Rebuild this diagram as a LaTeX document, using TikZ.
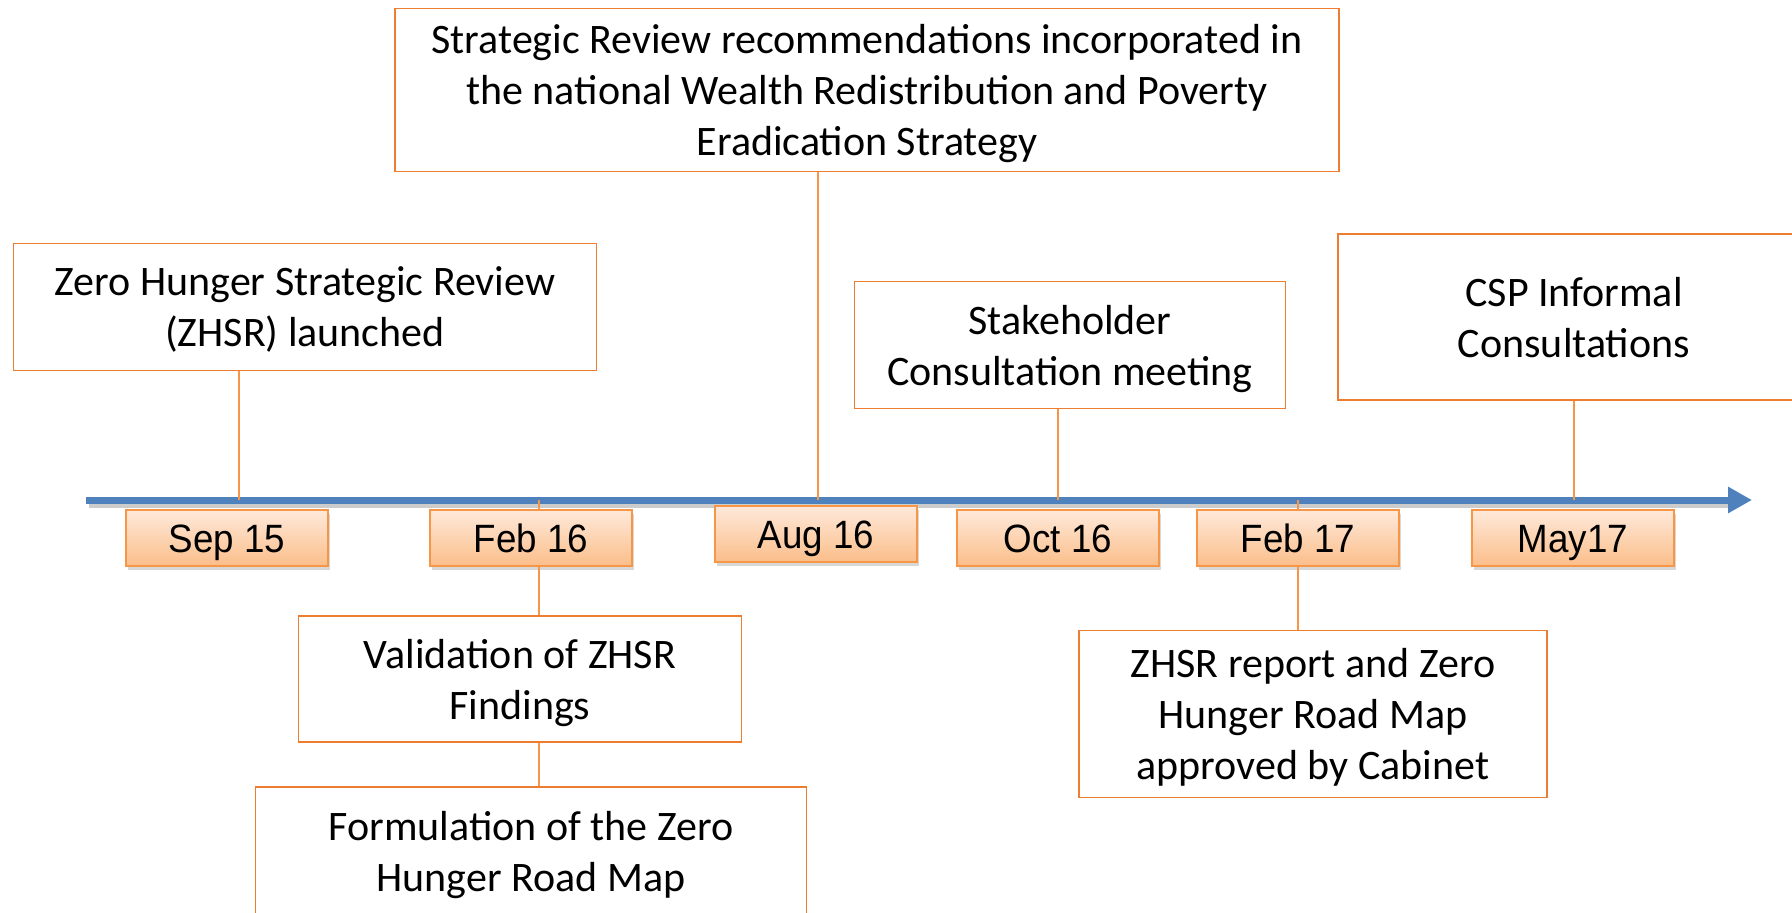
\documentclass[tikz,border=0pt]{standalone}
\usepackage{fontspec}
\setmainfont{Carlito}
\newfontfamily\datefont[FakeStretch=0.93]{Liberation Sans}
\usetikzlibrary{arrows.meta,shadows}
\definecolor{axisblue}{HTML}{4F81BD}
\definecolor{boxorange}{HTML}{ED7D31}
\definecolor{lineorange}{HTML}{F79646}
\definecolor{datetop}{HTML}{FEE9DA}
\definecolor{datebottom}{HTML}{FBBE8A}
\begin{document}
\begin{tikzpicture}[x=1pt,y=-1pt,
    event/.style={draw=boxorange,line width=1.5pt,fill=white,align=center,
      inner sep=0pt,text depth=0pt,font=\fontsize{42}{51}\selectfont},
    date/.style={draw=lineorange,line width=2pt,top color=datetop,bottom color=datebottom,
      minimum width=202pt,minimum height=56pt,inner sep=0pt,
      text height=28pt,text depth=0pt,
      font=\datefont\fontsize{39.5}{42}\selectfont,
      drop shadow={opacity=0.3,shadow xshift=2pt,shadow yshift=-4pt}},
    link/.style={lineorange,line width=1.5pt}]
    \useasboundingbox[fill=white] (0,0) rectangle (1792,913);
    % time axis
    \draw[black,opacity=0.2,line width=7pt] (89,504) -- (1728,504);
    \draw[axisblue,line width=7pt,-{Triangle[length=24pt,width=25pt]}] (86,500) -- (1752,500);
    \coordinate (t-sep15) at (239,500);
    \coordinate (t-feb16) at (539,500);
    \coordinate (t-aug16) at (818,500);
    \coordinate (t-oct16) at (1058,500);
    \coordinate (t-feb17) at (1298,500);
    \coordinate (t-may17) at (1574,500);
    % dates
    \node[date] (sep15) at (227,538) {Sep 15};
    \node[date] (feb16) at (531,538) {Feb 16};
    \node[date] (aug16) at (816,534) {Aug 16};
    \node[date] (oct16) at (1058,538) {Oct 16};
    \node[date] (feb17) at (1298,538) {Feb 17};
    \node[date] (may17) at (1573,538) {May17};
    % events above the axis
    \node[event,minimum width=583pt,minimum height=127pt] (launch) at (305,307)
      {Zero Hunger Strategic Review\\(ZHSR) launched};
    \node[event,minimum width=944pt,minimum height=163pt] (strategy) at (867,90)
      {Strategic Review recommendations incorporated in\\the national Wealth Redistribution and Poverty\\Eradication Strategy};
    \node[event,minimum width=431pt,minimum height=127pt] (stakeholder) at (1070,345)
      {Stakeholder\\Consultation meeting};
    \node[event,minimum width=472pt,minimum height=166pt] (csp) at (1574,317)
      {CSP Informal\\Consultations};
    % events below the axis
    \node[event,minimum width=443pt,minimum height=126pt] (validation) at (520,679)
      {Validation of ZHSR\\Findings};
    \node[event,minimum width=551pt,minimum height=128pt] (roadmap) at (531,851)
      {Formulation of the Zero\\Hunger Road Map};
    \node[event,minimum width=468pt,minimum height=167pt] (approval) at (1313,714)
      {ZHSR report and Zero\\Hunger Road Map\\approved by Cabinet};
    % links
    \draw[link] (launch.south -| t-sep15) -- (t-sep15);
    \draw[link] (strategy.south -| t-aug16) -- (t-aug16);
    \draw[link] (stakeholder.south -| t-oct16) -- (t-oct16);
    \draw[link] (csp.south -| t-may17) -- (t-may17);
    \draw[link] (t-feb16) -- (feb16.north -| t-feb16);
    \draw[link] (feb16.south -| t-feb16) -- (validation.north -| t-feb16);
    \draw[link] (validation.south -| t-feb16) -- (roadmap.north -| t-feb16);
    \draw[link] (t-feb17) -- (feb17.north -| t-feb17);
    \draw[link] (feb17.south -| t-feb17) -- (approval.north -| t-feb17);
  \end{tikzpicture}
\end{document}
